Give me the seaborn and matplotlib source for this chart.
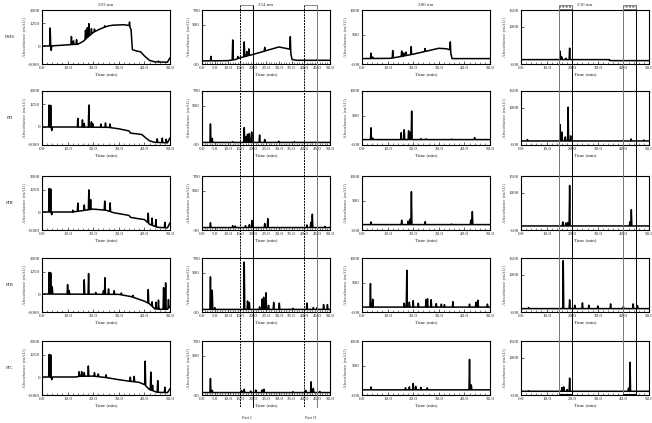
"""
HPLC fingerprints of five samples at four detection wavelengths.
Each trace is drawn from baseline knots plus peak (time, height) pairs
read off the published figure.
"""

import numpy as np
import pandas as pd
import matplotlib.pyplot as plt
import seaborn as sns
from matplotlib.lines import Line2D
from matplotlib.patches import Rectangle

sns.set_theme(style="ticks")
plt.rcParams["font.family"] = ["Liberation Serif", "DejaVu Serif"]

SAMPLES = ["PMS", "PB", "PIR", "PIB", "PIC"]
WAVELENGTHS = ["203 nm", "254 nm", "280 nm", "330 nm"]

Y_TICKS_203 = [-1000, 0, 1250, 2000]
Y_TICKS_254 = [-30, 500, 700]
Y_TICKS_280 = [-100, 500, 1000]
Y_TICKS_330 = [-100, 1000, 1500]

X_TICKS_5 = [0, 5, 10, 15, 20, 25, 30, 35, 40, 45, 50]
X_TICKS_10 = [0, 10, 20, 30, 40, 50]

PART_WINDOWS = [(15, 20, "Part I"), (40, 45, "Part II")]

# baseline knots (time, mAU) and peaks (time, height above baseline)
pms_203_base = [(0, 0), (3, 0), (14, 100), (16, 250), (18, 500), (20, 750), (22, 900),
                (24, 1020), (26, 1120), (28, 1160), (32, 1180), (34, 1140), (34.8, 900),
                (35.3, -200), (37, -280), (38.5, -320), (40, -550), (42, -800),
                (44, -880), (49, -900), (50, -650)]
pms_203_peaks = [(3.2, 1000), (3.6, -250), (11.5, 450), (12.3, 200), (13.5, 250),
                 (17.0, 500), (17.7, 550), (18.3, 700), (19.3, 300), (20.5, 150),
                 (24.5, 80), (34.2, 250), (45.5, 50)]

pms_254_base = [(0, 12), (10, 15), (13, 30), (15, 55), (20, 100), (25, 150), (28, 180),
                (30, 200), (33, 180), (34.3, 170), (35.2, 30), (37, 20), (50, 20)]
pms_254_peaks = [(3.5, 60), (12, 270), (14, 30), (16.5, 200), (17.5, 60), (18.3, 90),
                 (24.5, 50), (34.5, 200), (45, 10)]

pms_280_base = [(0, 10), (11, 15), (15, 50), (20, 100), (25, 160), (30, 220), (33, 210),
                (34.3, 190), (35.2, 10), (50, 10)]
pms_280_peaks = [(3.5, 110), (4.2, 30), (12, 150), (15.5, 110), (16.3, 60), (17.2, 70),
                 (19.2, 160), (24.6, 60), (34.5, 200)]

pms_330_base = [(0, 30), (34, 30), (35, 0), (50, 0)]
pms_330_peaks = [(15.3, 250), (15.9, 80), (17.5, 40), (19.0, 340), (34.5, 20)]

pb_203_base = [(0, 0), (12, 0), (26, -20), (30, -100), (34, -220), (34.6, -340),
               (37, -380), (39, -420), (40.5, -600), (42, -770), (44, -850),
               (49, -880), (50, -600)]
pb_203_peaks = [(2.8, 1220), (3.4, 1200), (3.8, -200), (14, 480), (15.8, 400),
                (16.5, 200), (18.3, 1230), (19.3, 300), (19.8, 200), (23, 180),
                (24.8, 240), (26.6, 200), (45, 200), (47, 250), (48.5, 200)]

pb_254_base = [(0, 5), (50, 5)]
pb_254_peaks = [(3.3, 250), (4.0, 55), (12, 10), (16.5, 200), (17.3, 80), (17.8, 110),
                (18.5, 120), (19.4, 140), (22.5, 100), (24.5, 40), (30, 15), (36, 8)]

pb_280_base = [(0, 10), (50, 10)]
pb_280_peaks = [(3.5, 240), (4.2, 30), (15.3, 140), (16.5, 200), (18.2, 180),
                (18.7, 150), (19.4, 580), (23, 20), (25, 15), (35, 10), (44, 40)]

pb_330_base = [(0, 20), (50, 20)]
pb_330_peaks = [(2.5, 40), (15.3, 480), (16.0, 260), (17.3, 120), (18.4, 1000),
                (19.4, 150), (43, 60), (48, 30)]

pir_203_base = [(0, 0), (12, 0), (16, 80), (20, 160), (25, 100), (28, -40), (34, -190),
                (34.6, -300), (38, -380), (40, -420), (42, -680), (45, -850),
                (49, -880), (50, -600)]
pir_203_peaks = [(2.8, 1300), (3.4, 1280), (3.8, -150), (12, 100), (14, 460),
                 (16.5, 300), (18.3, 1100), (19.0, 550), (24.5, 500), (26.6, 480),
                 (41.5, 550), (43, 400), (44.5, 400), (48, 300)]

pir_254_base = [(0, 3), (50, 3)]
pir_254_peaks = [(3.3, 65), (12, 25), (13, 20), (17, 25), (18.5, 40), (19.5, 95),
                 (24.5, 55), (25.7, 120), (41, 35), (42.5, 70), (43.1, 180), (48, 15)]

pir_280_base = [(0, 10), (50, 10)]
pir_280_peaks = [(3.5, 55), (15.5, 90), (18, 70), (18.7, 110), (19.3, 670), (24.7, 60),
                 (35, 10), (42.5, 90), (43.1, 265)]

pir_330_base = [(0, 20), (50, 20)]
pir_330_peaks = [(16.3, 120), (17.5, 90), (18.3, 100), (19.0, 1200), (42.5, 120),
                 (43.1, 480)]

pib_203_base = [(0, 0), (30, -20), (35, -150), (38, -300), (40, -400), (42, -550),
                (44, -820), (46, -850), (49, -850), (50, -700)]
pib_203_peaks = [(2.8, 1200), (3.4, 1180), (4.0, 400), (10, 530), (10.6, 200),
                 (16.5, 800), (18.2, 1150), (21, 100), (24, 200), (24.6, 920),
                 (26, 300), (28.2, 200), (31, 100), (35.5, 100), (41.5, 760),
                 (43, 250), (44.5, 360), (45.5, 500), (47.5, 1200), (48.3, 1470),
                 (49.4, 480)]

pib_254_base = [(0, 5), (50, 5)]
pib_254_peaks = [(3.3, 440), (4.0, 260), (5, 25), (16.5, 640), (17.8, 115), (18.5, 90),
                 (22.5, 35), (23.5, 140), (24.1, 165), (25, 225), (26, 55), (28, 95),
                 (30.2, 85), (35.5, 15), (41, 85), (43.5, 25), (45, 25), (47.5, 65),
                 (49, 65)]

pib_280_base = [(0, 0), (50, 0)]
pib_280_peaks = [(3.3, 480), (4.2, 160), (16.5, 80), (17.5, 750), (18.5, 100),
                 (20, 130), (22, 80), (25, 150), (25.6, 170), (27, 150), (29, 70),
                 (31, 60), (32.2, 50), (35.5, 110), (42, 60), (44.5, 100),
                 (45.3, 140), (49, 60)]

pib_330_base = [(0, 0), (50, 0)]
pib_330_peaks = [(3, 30), (16.5, 1420), (19, 260), (21, 100), (24, 170), (26.5, 100),
                 (30, 80), (35, 140), (40, 60), (43.8, 140), (45.5, 90)]

pic_203_base = [(0, 0), (13, 0), (15, 40), (20, 50), (25, -30), (30, -150),
                (34, -230), (38, -300), (40, -420), (42, -700), (45, -850),
                (49, -870), (50, -650)]
pic_203_peaks = [(2.8, 1250), (3.4, 1230), (3.8, -150), (14.5, 260), (15.5, 260),
                 (16.5, 200), (18.1, 565), (20.5, 200), (22, 150), (25, 150),
                 (34.5, 230), (36, 300), (40.3, 1340), (42.5, 1000), (43.2, 300),
                 (45.2, 650), (48, 300)]

pic_254_base = [(0, 3), (50, 3)]
pic_254_peaks = [(3.3, 190), (4.0, 30), (15.5, 25), (16.5, 45), (19, 20), (21, 35),
                 (23.5, 35), (24.2, 45), (35.5, 12), (40.5, 30), (42.6, 145),
                 (43.5, 55), (46, 15)]

pic_280_base = [(0, 5), (50, 5)]
pic_280_peaks = [(3.5, 60), (17, 40), (18.5, 60), (20, 130), (21, 70), (23, 50),
                 (25.5, 40), (42.0, 620), (42.7, 100)]

pic_330_base = [(0, 10), (50, 10)]
pic_330_peaks = [(3, 15), (16, 110), (16.7, 130), (18, 50), (19, 390), (42, 90),
                 (42.6, 860)]

TRACES = {
    ("PMS", "203 nm"): (pms_203_base, pms_203_peaks),
    ("PMS", "254 nm"): (pms_254_base, pms_254_peaks),
    ("PMS", "280 nm"): (pms_280_base, pms_280_peaks),
    ("PMS", "330 nm"): (pms_330_base, pms_330_peaks),
    ("PB", "203 nm"): (pb_203_base, pb_203_peaks),
    ("PB", "254 nm"): (pb_254_base, pb_254_peaks),
    ("PB", "280 nm"): (pb_280_base, pb_280_peaks),
    ("PB", "330 nm"): (pb_330_base, pb_330_peaks),
    ("PIR", "203 nm"): (pir_203_base, pir_203_peaks),
    ("PIR", "254 nm"): (pir_254_base, pir_254_peaks),
    ("PIR", "280 nm"): (pir_280_base, pir_280_peaks),
    ("PIR", "330 nm"): (pir_330_base, pir_330_peaks),
    ("PIB", "203 nm"): (pib_203_base, pib_203_peaks),
    ("PIB", "254 nm"): (pib_254_base, pib_254_peaks),
    ("PIB", "280 nm"): (pib_280_base, pib_280_peaks),
    ("PIB", "330 nm"): (pib_330_base, pib_330_peaks),
    ("PIC", "203 nm"): (pic_203_base, pic_203_peaks),
    ("PIC", "254 nm"): (pic_254_base, pic_254_peaks),
    ("PIC", "280 nm"): (pic_280_base, pic_280_peaks),
    ("PIC", "330 nm"): (pic_330_base, pic_330_peaks),
}

COLUMN_SETUP = {
    "203 nm": (Y_TICKS_203, X_TICKS_10, 2),
    "254 nm": (Y_TICKS_254, X_TICKS_5, 1),
    "280 nm": (Y_TICKS_280, X_TICKS_10, 2),
    "330 nm": (Y_TICKS_330, X_TICKS_10, 2),
}

FIG_W, FIG_H = 652, 423
COL_LEFT = [42, 202, 362, 521]
COL_WIDTH = 128
ROW_TOP = [10, 91, 176, 258, 341]
ROW_HEIGHT = 54
FS = 3.6


def build_trace(base, peaks, half_width=0.2):
    """Join baseline knots and narrow triangular peaks into one polyline."""
    bt, by = np.array(base, dtype=float).T
    pts = list(base)
    for t, h in peaks:
        for dt, dh in ((-half_width, 0), (0, h), (half_width, 0)):
            x = t + dt
            pts.append((x, float(np.interp(x, bt, by)) + dh))
    pts.sort()
    return pd.DataFrame(pts, columns=["time", "absorbance"])


def fx(px):
    return px / FIG_W


def fy(px):
    return 1 - px / FIG_H


def style_axes(ax, wl):
    yticks, xticks, minor = COLUMN_SETUP[wl]
    ax.set_xlim(0, 50)
    ax.set_ylim(yticks[0], yticks[-1])
    ax.set_yticks(yticks)
    ax.set_yticklabels([str(v) for v in yticks])
    ax.set_xticks(xticks)
    ax.set_xticklabels([f"{v:.1f}" for v in xticks])
    ax.set_xticks(np.arange(0, 50.1, minor), minor=True)
    ax.tick_params(axis="both", which="major", direction="in", length=2, width=0.5,
                   labelsize=FS, pad=1.5, colors="#222222")
    ax.tick_params(axis="x", which="minor", direction="in", length=1.2, width=0.4)
    ax.set_xlabel("Time (min)", fontsize=FS, labelpad=1.5, color="#222222")
    ax.set_ylabel("Absorbance (mAU)", fontsize=FS, labelpad=1.5, color="#444444")
    for sp in ax.spines.values():
        sp.set_linewidth(0.8)
        sp.set_color("black")


def draw_windows(fig, axes):
    # column 254 nm: tall boxes reaching below the bottom panel
    top_ax = axes[0][1]
    for x0, x1, label in PART_WINDOWS:
        xf = [fig.transFigure.inverted().transform(
            top_ax.transData.transform((x, 0)))[0] for x in (x0, x1)]
        y_top, y_bot = fy(5), fy(407)
        fig.add_artist(Line2D([xf[0], xf[0]], [y_top, y_bot], color="black",
                              lw=0.7, ls=(0, (2, 1))))
        fig.add_artist(Line2D([xf[1], xf[1]], [y_top, y_bot],
                              color="black" if x1 == 20 else "#777777", lw=0.7))
        fig.add_artist(Line2D(xf, [y_top, y_top], color="#777777", lw=0.6))
        fig.text((xf[0] + xf[1]) / 2, fy(418), label, fontsize=FS - 0.4,
                 ha="center", va="center", color="#333333")

    # column 330 nm: boxes from the top down to the bottom panel's axis
    top_ax = axes[0][3]
    for x0, x1, _ in PART_WINDOWS:
        xf = [fig.transFigure.inverted().transform(
            top_ax.transData.transform((x, 0)))[0] for x in (x0, x1)]
        y_top, y_bot = fy(9), fy(ROW_TOP[-1] + ROW_HEIGHT - 1)
        fig.add_artist(Rectangle((xf[0], y_top), xf[1] - xf[0], fy(5) - y_top,
                                 transform=fig.transFigure, facecolor="white",
                                 edgecolor="#555555", lw=0.5, hatch="....."))
        fig.add_artist(Line2D([xf[0], xf[0]], [y_top, y_bot], color="#777777", lw=0.7))
        fig.add_artist(Line2D([xf[1], xf[1]], [y_top, y_bot], color="black", lw=0.7))
        fig.add_artist(Line2D(xf, [y_bot, y_bot], color="black", lw=0.7))


def main():
    fig = plt.figure(figsize=(FIG_W / 100, FIG_H / 100), dpi=100)
    axes = []
    for r, sample in enumerate(SAMPLES):
        row = []
        for c, wl in enumerate(WAVELENGTHS):
            ax = fig.add_axes([fx(COL_LEFT[c]), fy(ROW_TOP[r] + ROW_HEIGHT),
                               fx(COL_WIDTH), ROW_HEIGHT / FIG_H])
            base, peaks = TRACES[(sample, wl)]
            df = build_trace(base, peaks)
            sns.lineplot(data=df, x="time", y="absorbance", ax=ax, color="black",
                         lw=1.1, estimator=None, sort=False)
            style_axes(ax, wl)
            if r == 0:
                ax.set_title(wl, fontsize=FS, pad=3, color="#333333")
            row.append(ax)
        fig.text(fx(10), fy(ROW_TOP[r] + ROW_HEIGHT / 2), sample, fontsize=FS,
                 ha="center", va="center", color="#222222")
        axes.append(row)

    draw_windows(fig, axes)
    fig.savefig("out.png", dpi=100)


if __name__ == "__main__":
    main()
